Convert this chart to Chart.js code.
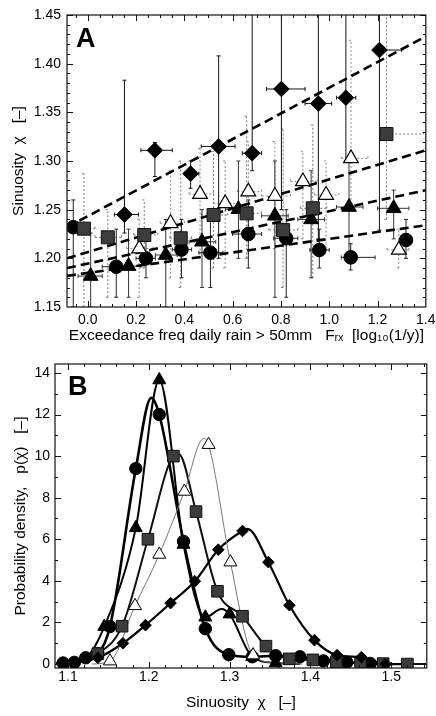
<!DOCTYPE html>
<html><head><meta charset="utf-8">
<script src="https://cdn.jsdelivr.net/npm/chart.js@4.4.0/dist/chart.umd.min.js"></script>
<style>
html,body{margin:0;padding:0;background:#fff;}
#wrap{position:relative;width:436px;height:716px;overflow:hidden;}
</style></head><body>
<div id="wrap">
<canvas id="ca" width="436" height="345" style="position:absolute;left:0;top:0"></canvas>
<canvas id="cb" width="436" height="371" style="position:absolute;left:0;top:345px"></canvas>
</div>
<script>
// ---------------- Panel A data ----------------
const aXTicks = [0.0, 0.2, 0.4, 0.6, 0.8, 1.0, 1.2, 1.4];
const aYTicks = [1.15, 1.20, 1.25, 1.30, 1.35, 1.40, 1.45];

const diamondX   = [0.152, 0.278, 0.426, 0.542, 0.681, 0.802, 0.955, 1.069, 1.208];
const diamondY   = [1.245, 1.311, 1.287, 1.315, 1.308, 1.374, 1.359, 1.365, 1.414];
const diamondXLo = [0.11, 0.22, 0.40, 0.47, 0.64, 0.74, 0.90, 1.03, 1.20];
const diamondXHi = [0.21, 0.35, 0.46, 0.61, 0.72, 0.90, 1.01, 1.11, 1.30];
const diamondYLo = [1.226, 1.284, 1.272, 1.20, 1.29, 1.25, 1.22, 1.30, 1.229];
const diamondYHi = [1.383, 1.319, 1.300, 1.408, 1.46, 1.46, 1.46, 1.46, 1.46];

const squareX   = [-0.016, 0.083, 0.234, 0.385, 0.521, 0.658, 0.809, 0.932, 1.237];
const squareY   = [1.2305, 1.2216, 1.224, 1.2206, 1.2445, 1.2462, 1.229, 1.2514, 1.3277];
const squareXLo = [-0.06, 0.03, 0.19, 0.34, 0.47, 0.60, 0.75, 0.88, 1.24];
const squareXHi = [0.03, 0.14, 0.29, 0.43, 0.58, 0.72, 0.87, 0.99, 1.39];
const squareYLo = [1.15, 1.16, 1.19, 1.17, 1.19, 1.20, 1.17, 1.18, 1.24];
const squareYHi = [1.287, 1.25, 1.26, 1.30, 1.31, 1.346, 1.333, 1.337, 1.46];

const openTriX   = [0.213, 0.343, 0.465, 0.569, 0.665, 0.775, 0.891, 0.987, 1.090, 1.288];
const openTriY   = [1.210, 1.236, 1.266, 1.2565, 1.2685, 1.264, 1.279, 1.265, 1.3027, 1.2086];
const openTriXLo = [0.16, 0.30, 0.42, 0.52, 0.62, 0.72, 0.84, 0.94, 1.05, 1.24];
const openTriXHi = [0.27, 0.40, 0.52, 0.62, 0.72, 0.84, 0.95, 1.04, 1.16, 1.33];
const openTriYLo = [1.16, 1.18, 1.20, 1.19, 1.20, 1.21, 1.22, 1.21, 1.26, 1.19];
const openTriYHi = [1.24, 1.29, 1.313, 1.30, 1.32, 1.32, 1.31, 1.30, 1.424, 1.23];

const filledTriX   = [0.012, 0.169, 0.323, 0.473, 0.624, 0.775, 0.925, 1.082, 1.267];
const filledTriY   = [1.1818, 1.192, 1.2034, 1.217, 1.2505, 1.2437, 1.240, 1.2527, 1.2514];
const filledTriXLo = [-0.04, 0.12, 0.28, 0.42, 0.57, 0.72, 0.87, 1.03, 1.20];
const filledTriXHi = [0.06, 0.22, 0.37, 0.53, 0.68, 0.83, 0.98, 1.14, 1.33];
const filledTriYLo = [1.15, 1.16, 1.15, 1.17, 1.20, 1.16, 1.18, 1.20, 1.22];
const filledTriYHi = [1.226, 1.23, 1.24, 1.25, 1.30, 1.30, 1.29, 1.30, 1.27];

const circleX   = [-0.060, 0.118, 0.241, 0.388, 0.508, 0.665, 0.822, 0.959, 1.089, 1.318];
const circleY   = [1.232, 1.1914, 1.200, 1.209, 1.2058, 1.225, 1.2206, 1.2086, 1.201, 1.2188];
const circleXLo = [-0.09, 0.06, 0.20, 0.35, 0.46, 0.60, 0.77, 0.92, 1.05, 1.30];
const circleXHi = [-0.03, 0.17, 0.28, 0.43, 0.56, 0.72, 0.87, 1.00, 1.19, 1.34];
const circleYLo = [1.15, 1.16, 1.18, 1.18, 1.17, 1.19, 1.16, 1.19, 1.188, 1.20];
const circleYHi = [1.26, 1.23, 1.22, 1.24, 1.24, 1.26, 1.25, 1.23, 1.215, 1.24];

// regression (dashed) lines: values at the two ends of the x range
const regX          = [-0.086, 1.4];
const regDiamondY   = [1.232, 1.428];
const regOpenTriY   = [1.200, 1.311];
const regFilledTriY = [1.190, 1.270];
const regCircleY    = [1.182, 1.234];

// ---------------- Panel B data ----------------
const bXTicks = [1.1, 1.2, 1.3, 1.4, 1.5];
const bYTicks = [0, 2, 4, 6, 8, 10, 12, 14];

const bCircleCurveX = [1.085, 1.094, 1.108, 1.122, 1.137, 1.152, 1.184, 1.203, 1.213, 1.243, 1.270, 1.299, 1.328, 1.357, 1.387, 1.416, 1.445, 1.474, 1.50];
const bCircleCurveY = [0.03, 0.05, 0.08, 0.3, 0.5, 1.8, 9.4, 12.8, 12.0, 5.9, 1.7, 0.45, 0.35, 0.4, 0.35, 0.15, 0.08, 0.03, 0.0];
const bCircleMarkX  = [1.094, 1.108, 1.122, 1.137, 1.152, 1.184, 1.213, 1.243, 1.270, 1.299, 1.328, 1.357, 1.387, 1.416, 1.445, 1.474];
const bCircleMarkY  = [0.05, 0.08, 0.3, 0.5, 1.8, 9.4, 12.0, 5.9, 1.7, 0.45, 0.35, 0.4, 0.35, 0.15, 0.08, 0.03];

const bFTriCurveX = [1.094, 1.122, 1.145, 1.184, 1.213, 1.243, 1.270, 1.290, 1.300, 1.328, 1.357, 1.387];
const bFTriCurveY = [0.05, 0.3, 1.8, 6.55, 13.66, 5.75, 2.25, 2.65, 2.4, 0.35, 0.05, 0.0];
const bFTriMarkX  = [1.145, 1.184, 1.213, 1.243, 1.270, 1.300, 1.328, 1.357];
const bFTriMarkY  = [1.8, 6.55, 13.66, 5.75, 2.25, 2.4, 0.35, 0.05];

const bSquareCurveX = [1.085, 1.108, 1.137, 1.167, 1.199, 1.2305, 1.237, 1.2585, 1.285, 1.316, 1.345, 1.374, 1.403, 1.432, 1.462, 1.49, 1.52, 1.543];
const bSquareCurveY = [0.0, 0.05, 0.5, 1.82, 6.0, 10.0, 10.1, 7.33, 3.5, 2.3, 0.86, 0.25, 0.2, 0.1, 0.05, 0.02, 0.0, 0.0];
const bSquareMarkX  = [1.137, 1.167, 1.199, 1.2305, 1.2585, 1.285, 1.316, 1.345, 1.374, 1.403, 1.432, 1.462, 1.49, 1.52];
const bSquareMarkY  = [0.5, 1.82, 6.0, 10.0, 7.33, 3.5, 2.3, 0.86, 0.25, 0.2, 0.1, 0.05, 0.02, 0.0];

const bOTriCurveX = [1.13, 1.152, 1.183, 1.213, 1.244, 1.268, 1.274, 1.301, 1.329, 1.36, 1.39];
const bOTriCurveY = [0.0, 0.14, 2.8, 5.27, 8.3, 10.85, 10.55, 4.9, 0.43, 0.05, 0.0];
const bOTriMarkX  = [1.152, 1.183, 1.213, 1.244, 1.274, 1.301, 1.329];
const bOTriMarkY  = [0.14, 2.8, 5.27, 8.3, 10.55, 4.9, 0.43];

const bDiamondCurveX = [1.09, 1.137, 1.168, 1.196, 1.227, 1.257, 1.286, 1.316, 1.322, 1.348, 1.374, 1.405, 1.433, 1.463, 1.493, 1.52];
const bDiamondCurveY = [0.0, 0.3, 1.0, 1.87, 2.93, 3.98, 5.5, 6.4, 6.5, 4.9, 2.83, 1.15, 0.43, 0.33, 0.0, 0.0];
const bDiamondMarkX  = [1.137, 1.168, 1.196, 1.227, 1.257, 1.286, 1.316, 1.348, 1.374, 1.405, 1.433, 1.463, 1.493];
const bDiamondMarkY  = [0.3, 1.0, 1.87, 2.93, 3.98, 5.5, 6.4, 4.9, 2.83, 1.15, 0.43, 0.33, 0.0];

// ---------------- helpers / plugins ----------------
const FONT = "'Liberation Sans', Arial, sans-serif";
const pts = (xs, ys) => xs.map((x, i) => ({x: x, y: ys[i]}));

const errorBars = {
  id: 'errorBars',
  beforeDatasetsDraw(chart) {
    const {ctx, chartArea: ca, scales: {x, y}} = chart;
    ctx.save();
    ctx.beginPath();
    ctx.rect(ca.left, ca.top, ca.right - ca.left, ca.bottom - ca.top);
    ctx.clip();
    chart.data.datasets.forEach(ds => {
      if (!ds.err) return;
      ctx.strokeStyle = ds.errColor;
      ctx.lineWidth = ds.errWidth;
      ctx.setLineDash(ds.errDash || []);
      ds.data.forEach((p, i) => {
        const px = x.getPixelForValue(p.x), py = y.getPixelForValue(p.y);
        const xl = x.getPixelForValue(ds.err.xLo[i]), xh = x.getPixelForValue(ds.err.xHi[i]);
        const yl = y.getPixelForValue(ds.err.yLo[i]), yh = y.getPixelForValue(ds.err.yHi[i]);
        ctx.beginPath();
        ctx.moveTo(xl, py); ctx.lineTo(xh, py);
        ctx.moveTo(px, yl); ctx.lineTo(px, yh);
        ctx.moveTo(xl, py - 2); ctx.lineTo(xl, py + 2);
        ctx.moveTo(xh, py - 2); ctx.lineTo(xh, py + 2);
        ctx.moveTo(px - 2, yl); ctx.lineTo(px + 2, yl);
        ctx.moveTo(px - 2, yh); ctx.lineTo(px + 2, yh);
        ctx.stroke();
      });
    });
    ctx.restore();
  }
};

const frameTicks = {
  id: 'frameTicks',
  afterDraw(chart, args, o) {
    const {ctx, chartArea: {left, right, top, bottom}, scales: {x, y}} = chart;
    ctx.save();
    ctx.strokeStyle = '#111';
    ctx.lineWidth = 1.2;
    ctx.strokeRect(left, top, right - left, bottom - top);
    ctx.lineWidth = 1;
    ctx.beginPath();
    const n = (a, b, s) => Math.round((b - a) / s);
    for (let i = 0; i <= n(o.xStart, o.xEnd, o.xMinor); i++) {
      const v = o.xStart + i * o.xMinor;
      const major = Math.abs(v / o.xMajor - Math.round(v / o.xMajor)) < 1e-6;
      const L = major ? 6 : 3;
      const px = Math.round(x.getPixelForValue(v)) + 0.5;
      if (px < left || px > right) continue;
      ctx.moveTo(px, bottom); ctx.lineTo(px, bottom - L);
      ctx.moveTo(px, top); ctx.lineTo(px, top + L);
    }
    for (let i = 0; i <= n(o.yStart, o.yEnd, o.yMinor); i++) {
      const v = o.yStart + i * o.yMinor;
      const major = Math.abs(v / o.yMajor - Math.round(v / o.yMajor)) < 1e-6;
      const L = major ? 6 : 3;
      const py = Math.round(y.getPixelForValue(v)) + 0.5;
      if (py < top || py > bottom) continue;
      ctx.moveTo(left, py); ctx.lineTo(left + L, py);
      ctx.moveTo(right, py); ctx.lineTo(right - L, py);
    }
    ctx.stroke();
    ctx.fillStyle = '#000';
    ctx.font = 'bold 27px ' + FONT;
    ctx.textBaseline = 'alphabetic';
    ctx.fillText(o.label, o.lx, o.ly);
    ctx.restore();
  }
};

const tickFont = {size: 14, family: FONT};
const titleFontA = {size: 15.5, family: FONT};
const titleFontB = {size: 15.5, family: FONT};
const noGrid = {display: false, drawTicks: false, tickLength: 0};

// ---------------- Chart A ----------------
const regLine = (ys) => ({
  type: 'line', data: pts(regX, ys), borderColor: '#000', borderWidth: 2.6,
  borderDash: [9, 5], pointRadius: 0, fill: false, order: 2
});
const errCfg = (xl, xh, yl, yh) => ({xLo: xl, xHi: xh, yLo: yl, yHi: yh});

new Chart(document.getElementById('ca'), {
  type: 'scatter',
  data: {
    datasets: [
      regLine(regDiamondY), regLine(regOpenTriY), regLine(regFilledTriY), regLine(regCircleY),
      {label: 'squares', data: pts(squareX, squareY), pointStyle: 'rect', pointRadius: 9.2,
       backgroundColor: '#3c3c3c', borderColor: '#111', borderWidth: 1, order: 1,
       err: errCfg(squareXLo, squareXHi, squareYLo, squareYHi), errColor: '#777', errWidth: 1, errDash: [2, 2]},
      {label: 'open triangles', data: pts(openTriX, openTriY), pointStyle: 'triangle', pointRadius: 8.5,
       backgroundColor: '#fff', borderColor: '#000', borderWidth: 1.2, order: 1,
       err: errCfg(openTriXLo, openTriXHi, openTriYLo, openTriYHi), errColor: '#888', errWidth: 1, errDash: [2, 2]},
      {label: 'filled triangles', data: pts(filledTriX, filledTriY), pointStyle: 'triangle', pointRadius: 8.5,
       backgroundColor: '#000', borderColor: '#000', borderWidth: 1, order: 1,
       err: errCfg(filledTriXLo, filledTriXHi, filledTriYLo, filledTriYHi), errColor: '#333', errWidth: 1},
      {label: 'circles', data: pts(circleX, circleY), pointStyle: 'circle', pointRadius: 6.8,
       backgroundColor: '#000', borderColor: '#000', borderWidth: 1, order: 1,
       err: errCfg(circleXLo, circleXHi, circleYLo, circleYHi), errColor: '#222', errWidth: 1},
      {label: 'diamonds', data: pts(diamondX, diamondY), pointStyle: 'rectRot', pointRadius: 7.8,
       backgroundColor: '#000', borderColor: '#000', borderWidth: 1, order: 1,
       err: errCfg(diamondXLo, diamondXHi, diamondYLo, diamondYHi), errColor: '#111', errWidth: 1}
    ]
  },
  options: {
    responsive: false, animation: false, devicePixelRatio: 1,
    layout: {padding: {left: 0, right: 6, top: 15, bottom: 0}},
    plugins: {
      legend: {display: false}, tooltip: {enabled: false},
      frameTicks: {xStart: -0.05, xEnd: 1.4, xMinor: 0.05, xMajor: 0.2,
                   yStart: 1.15, yEnd: 1.45, yMinor: 0.01, yMajor: 0.05, label: 'A', lx: 76, ly: 47}
    },
    scales: {
      x: {
        type: 'linear', min: -0.086, max: 1.4,
        afterBuildTicks: s => { s.ticks = aXTicks.map(v => ({value: v})); },
        afterFit: s => { s.height = 38; s.paddingLeft = 0; s.paddingRight = 0; },
        grid: noGrid, border: {display: false},
        ticks: {padding: 5, color: '#000', font: tickFont, maxRotation: 0, autoSkip: false,
                callback: v => v.toFixed(1)},
        title: {display: true, text: 'Exceedance freq daily rain > 50mm   Fᵣₓ  [log₁₀(1/y)]',
                color: '#000', font: titleFontA, padding: {top: 0, bottom: 0}}
      },
      y: {
        min: 1.15, max: 1.45,
        afterBuildTicks: s => { s.ticks = aYTicks.map(v => ({value: v})); },
        afterFit: s => { s.width = 67; s.paddingTop = 0; s.paddingBottom = 0; },
        grid: noGrid, border: {display: false},
        ticks: {padding: 6, color: '#000', font: tickFont, callback: v => v.toFixed(2)},
        title: {display: true, text: 'Sinuosity  χ   [–]', color: '#000', font: titleFontA,
                padding: {top: 9, bottom: 0}}
      }
    }
  },
  plugins: [errorBars, frameTicks]
});

// ---------------- Chart B ----------------
const curve = (xs, ys, color, w) => ({
  type: 'line', data: pts(xs, ys), borderColor: color, borderWidth: w, pointRadius: 0,
  fill: false, cubicInterpolationMode: 'monotone', order: 2
});
const marks = (xs, ys, style, r, fill, border) => ({
  data: pts(xs, ys), pointStyle: style, pointRadius: r, backgroundColor: fill,
  borderColor: border, borderWidth: 1, order: 1
});

new Chart(document.getElementById('cb'), {
  type: 'scatter',
  data: {
    datasets: [
      curve(bOTriCurveX, bOTriCurveY, '#777', 1),
      curve(bDiamondCurveX, bDiamondCurveY, '#000', 2.2),
      curve(bSquareCurveX, bSquareCurveY, '#111', 2),
      curve(bFTriCurveX, bFTriCurveY, '#000', 2),
      curve(bCircleCurveX, bCircleCurveY, '#000', 2.6),
      marks(bDiamondMarkX, bDiamondMarkY, 'rectRot', 5.8, '#000', '#000'),
      marks(bSquareMarkX, bSquareMarkY, 'rect', 8.2, '#3c3c3c', '#111'),
      marks(bOTriMarkX, bOTriMarkY, 'triangle', 7.5, '#fff', '#000'),
      marks(bFTriMarkX, bFTriMarkY, 'triangle', 7.5, '#000', '#000'),
      marks(bCircleMarkX, bCircleMarkY, 'circle', 6.2, '#000', '#000')
    ]
  },
  options: {
    responsive: false, animation: false, devicePixelRatio: 1,
    layout: {padding: {left: 0, right: 4, top: 19, bottom: 0}},
    plugins: {
      legend: {display: false}, tooltip: {enabled: false},
      frameTicks: {xStart: 1.1, xEnd: 1.54, xMinor: 0.02, xMajor: 0.1,
                   yStart: 0, yEnd: 14, yMinor: 1, yMajor: 2, label: 'B', lx: 68, ly: 50}
    },
    scales: {
      x: {
        type: 'linear', min: 1.084, max: 1.544,
        afterBuildTicks: s => { s.ticks = bXTicks.map(v => ({value: v})); },
        afterFit: s => { s.height = 48; s.paddingLeft = 0; s.paddingRight = 0; },
        grid: noGrid, border: {display: false},
        ticks: {padding: 1, color: '#000', font: tickFont, maxRotation: 0, autoSkip: false,
                callback: v => v.toFixed(1)},
        title: {display: true, text: 'Sinuosity  χ   [–]', color: '#000', font: titleFontB,
                padding: {top: 0, bottom: 4}}
      },
      y: {
        min: -0.19, max: 14.43,
        afterBuildTicks: s => { s.ticks = bYTicks.map(v => ({value: v})); },
        afterFit: s => { s.width = 55; s.paddingTop = 0; s.paddingBottom = 0; },
        grid: noGrid, border: {display: false},
        ticks: {padding: 5, color: '#000', font: tickFont, callback: v => String(v)},
        title: {display: true, text: 'Probability density,   p(χ)   [–]', color: '#000', font: titleFontB,
                padding: {top: 11, bottom: 0}}
      }
    }
  },
  plugins: [frameTicks]
});
</script>
</body></html>
